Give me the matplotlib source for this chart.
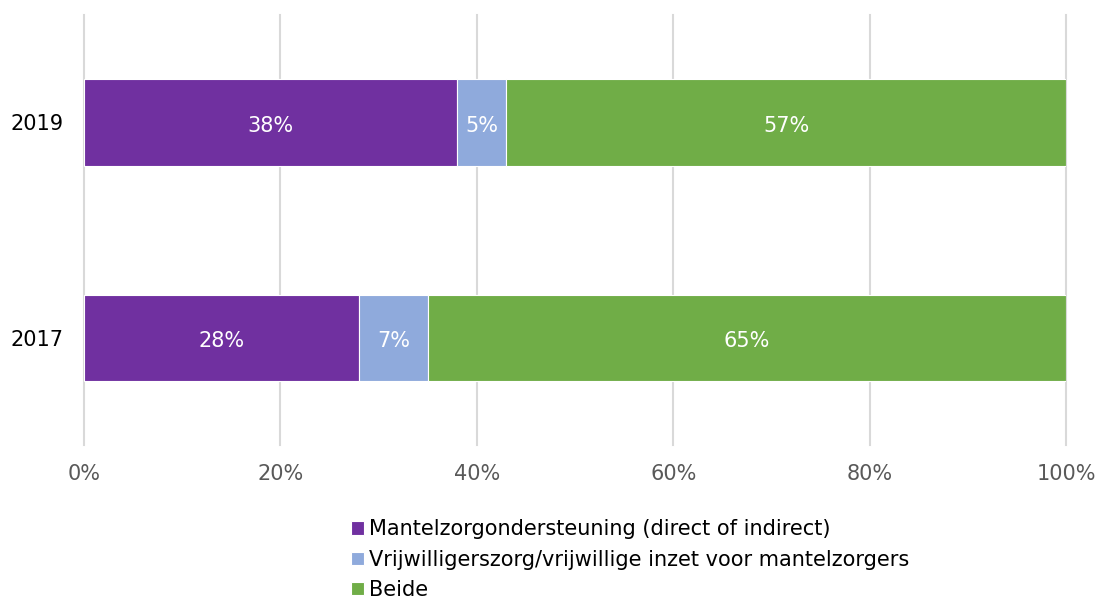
import matplotlib.pyplot as plt
import numpy as np

jaren = ["2017", "2019"]
mantelzorg = [28, 38]
vrijwilligers = [7, 5]
beide = [65, 57]
reeksen = ["Mantelzorgondersteuning (direct of indirect)",
           "Vrijwilligerszorg/vrijwillige inzet voor mantelzorgers",
           "Beide"]
kleuren = ["#7030A0", "#8FAADC", "#70AD47"]

fig = plt.figure(figsize=(11, 5.96), dpi=100)
ax = fig.add_axes([84/1100, 151/596, 982/1100, 430/596])

y = np.arange(len(jaren))
links = np.zeros(len(jaren))
for waarden, naam, kleur in zip([mantelzorg, vrijwilligers, beide], reeksen, kleuren):
    waarden = np.array(waarden)
    ax.barh(y, waarden, left=links, height=0.4, color=kleur, label=naam,
            edgecolor="white", linewidth=0.8, zorder=3)
    for yi, l, w in zip(y, links, waarden):
        ax.text(l + w/2, yi - 0.015, "%d%%" % w, ha="center", va="center",
                color="white", fontsize=15, zorder=4)
    links += waarden

ax.set_xlim(0, 100)
ax.set_ylim(-0.5, 1.5)
ax.set_yticks(y)
ax.set_yticklabels(jaren, fontsize=15, color="black")
ax.set_xticks(range(0, 101, 20))
ax.set_xticklabels(["%d%%" % v for v in range(0, 101, 20)], fontsize=15, color="#595959")
ax.tick_params(length=0)
ax.tick_params(axis="x", pad=14)
ax.tick_params(axis="y", pad=15)
for v in range(0, 101, 20):
    ax.axvline(v, color="#D9D9D9", linewidth=1.5, zorder=0, clip_on=False)
for s in ax.spines.values():
    s.set_visible(False)

fig.legend(loc="upper left", bbox_to_anchor=(343/1100, 1 - 511/596), frameon=False,
           fontsize=15, handlelength=0.6, handleheight=0.6, handletextpad=0.25,
           labelspacing=0.5, borderaxespad=0)

fig.savefig("out.png", dpi=100)
